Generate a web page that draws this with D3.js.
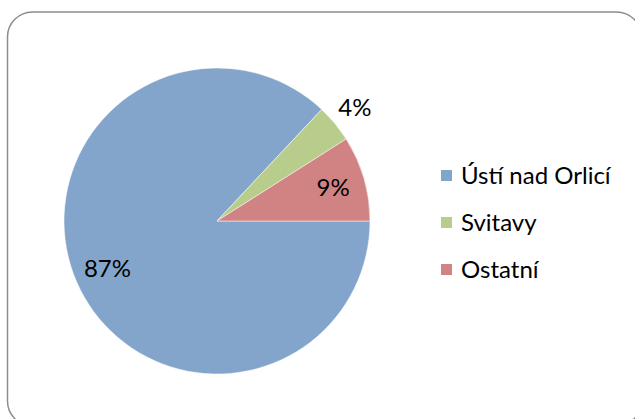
<!DOCTYPE html>
<html>
<head>
    <meta charset="utf-8">
    <title>Pie chart</title>
    <script src="https://d3js.org/d3.v7.min.js"></script>
    <style>
        body { margin: 0; background: #fff; }
        text { font-family: Lato, "Open Sans", sans-serif; fill: #000; }
    </style>
</head>
<body>
    <svg width="635" height="419"></svg>
    <script>
        const categories = ["Ústí nad Orlicí", "Svitavy", "Ostatní"];
        const values = [87, 4, 9];
        const labels = ["87%", "4%", "9%"];
        const colors = ["#84a5cb", "#b8cd8c", "#d08382"];

        const svg = d3.select("svg");

        // chart frame (runs off the bottom/right of the picture)
        svg.append("rect")
           .attr("x", 7.5).attr("y", 12)
           .attr("width", 634).attr("height", 414)
           .attr("rx", 25).attr("ry", 25)
           .attr("fill", "none")
           .attr("stroke", "#8c8c8c")
           .attr("stroke-width", 1.5);

        const cx = 217, cy = 221, r = 153;
        const data = categories.map((c, i) => ({ name: c, value: values[i], label: labels[i], color: colors[i] }));

        const pie = d3.pie()
                      .sort(null)
                      .value(d => d.value)
                      .startAngle(Math.PI / 2)
                      .endAngle(Math.PI / 2 + 2 * Math.PI);

        const arc = d3.arc().innerRadius(0).outerRadius(r);

        const g = svg.append("g").attr("transform", `translate(${cx},${cy})`);

        const arcs = pie(data);

        g.selectAll("path")
         .data(arcs)
         .enter().append("path")
         .attr("d", arc)
         .attr("fill", d => d.data.color)
         .attr("stroke", "#fff")
         .attr("stroke-width", 0.5);

        // label positions: inside for the big slices, just outside for the thin one
        const labelRadius = [0.78, 1.17, 0.79];
        g.selectAll(".lbl")
         .data(arcs)
         .enter().append("text")
         .attr("class", "lbl")
         .attr("transform", (d, i) => {
             const a = (d.startAngle + d.endAngle) / 2;
             const rr = r * labelRadius[i];
             return `translate(${Math.sin(a) * rr},${-Math.cos(a) * rr})`;
         })
         .attr("text-anchor", "middle")
         .attr("dy", "0.36em")
         .style("font-size", "24px")
         .text(d => d.data.label);

        // legend
        const legend = svg.selectAll(".legend")
           .data(data)
           .enter().append("g")
           .attr("class", "legend")
           .attr("transform", (d, i) => `translate(441,${170 + i * 47})`);

        legend.append("rect")
              .attr("width", 11).attr("height", 11)
              .attr("fill", d => d.color);

        legend.append("text")
              .attr("x", 20)
              .attr("y", 5.5)
              .attr("dy", "0.36em")
              .style("font-size", "24px")
              .text(d => d.name);
    </script>
</body>
</html>
